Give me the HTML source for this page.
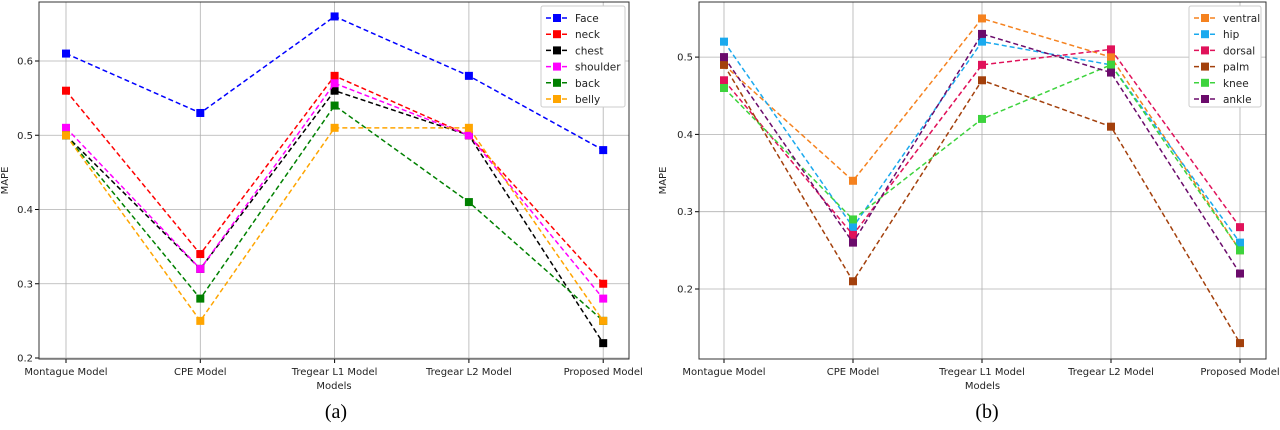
<!DOCTYPE html>
<html><head><meta charset="utf-8"><style>
body{margin:0;background:#fff;width:1280px;height:430px;overflow:hidden}
svg{display:block;font-family:"DejaVu Sans","Liberation Sans",sans-serif}
</style></head><body>
<svg id="s" width="1280" height="430"></svg>
<script>
const categories=["Montague Model","CPE Model","Tregear L1 Model","Tregear L2 Model","Proposed Model"];
const seriesA=["Face","neck","chest","shoulder","back","belly"];
const colorsA=["#0000ff","#ff0000","#000000","#ff00ff","#008000","#ffa500"];
const faceV=[0.61,0.53,0.66,0.58,0.48];
const neckV=[0.56,0.34,0.58,0.50,0.30];
const chestV=[0.50,0.32,0.56,0.50,0.22];
const shoulderV=[0.51,0.32,0.57,0.50,0.28];
const backV=[0.50,0.28,0.54,0.41,0.25];
const bellyV=[0.50,0.25,0.51,0.51,0.25];
const ticksA=[0.2,0.3,0.4,0.5,0.6];
const seriesB=["ventral","hip","dorsal","palm","knee","ankle"];
const colorsB=["#f5821f","#1aa9ee","#e0125a","#a3400c","#3dd33d","#6b0b6b"];
const ventralV=[0.49,0.34,0.55,0.50,0.25];
const hipV=[0.52,0.28,0.52,0.49,0.26];
const dorsalV=[0.47,0.27,0.49,0.51,0.28];
const palmV=[0.49,0.21,0.47,0.41,0.13];
const kneeV=[0.46,0.29,0.42,0.49,0.25];
const ankleV=[0.50,0.26,0.53,0.48,0.22];
const ticksB=[0.2,0.3,0.4,0.5];
const NS="http://www.w3.org/2000/svg";
const svg=document.getElementById('s');
function mk(t,a,p){const e=document.createElementNS(NS,t);for(const k in a)e.setAttribute(k,a[k]);(p||svg).appendChild(e);return e;}
function chart(cfg){
 const g=mk('g',{});
 
 
 const {L,R,T,B,x0,dx,v0,p0,pp}=cfg;
 const xs=i=>x0+i*dx, ys=v=>p0-(v-v0)*pp;
 categories.forEach((c,i)=>{
  const l=mk('line',{x1:xs(i),x2:xs(i),y1:T,y2:B,stroke:'#b0b0b0','stroke-width':0.8},g);
  
  
  mk('line',{x1:xs(i),x2:xs(i),y1:B,y2:B+4,stroke:'#000'},g);
  const t=mk('text',{x:xs(i),y:B+16,'text-anchor':'middle','font-size':10,fill:'#222'},g);
  t.textContent=c;
  
  
 });
 cfg.ticks.forEach(v=>{
  const l=mk('line',{x1:L,x2:R,y1:ys(v),y2:ys(v),stroke:'#b0b0b0','stroke-width':0.8},g);
  
  
  mk('line',{x1:L-4,x2:L,y1:ys(v),y2:ys(v),stroke:'#000'},g);
  const t=mk('text',{x:L-6,y:ys(v)+3.5,'text-anchor':'end','font-size':10,fill:'#222'},g);
  t.textContent=v.toFixed(1);
  
  
 });
 const fr=mk('rect',{x:L,y:T,width:R-L,height:B-T,fill:'none',stroke:'#333','stroke-width':1},g);
 
 
 cfg.data.forEach((d,k)=>{
  const pl=mk('polyline',{points:d.map((v,i)=>xs(i)+','+ys(v)).join(' '),fill:'none',stroke:cfg.colors[k],'stroke-width':1.5,'stroke-dasharray':'5,3'},g);
  
  
  d.forEach((v,i)=>{
   const m=mk('rect',{x:xs(i)-4,y:ys(v)-4,width:8,height:8,fill:cfg.colors[k]},g);
   
   
  });
 });
 const xt=mk('text',{x:(L+R)/2,y:B+30,'text-anchor':'middle','font-size':10,fill:'#222'},g);
 xt.textContent='Models';
 
 
 const yt=mk('text',{x:cfg.yl,y:(T+B)/2,'text-anchor':'middle','font-size':10,fill:'#222',transform:`rotate(-90 ${cfg.yl} ${(T+B)/2})`},g);
 yt.textContent='MAPE';
 
 
 const lg=mk('g',{},g);
 
 
 mk('rect',{x:cfg.lx,y:6,width:cfg.lw,height:101,fill:'#fff',stroke:'#ccc',rx:2},lg);
 cfg.series.forEach((s,k)=>{
  const y=18+k*16.2;
  const e=mk('g',{},lg);
  
  
  mk('line',{x1:cfg.lx+5,x2:cfg.lx+26,y1:y,y2:y,stroke:cfg.colors[k],'stroke-width':1.5,'stroke-dasharray':'5,3'},e);
  mk('rect',{x:cfg.lx+12,y:y-4,width:8,height:8,fill:cfg.colors[k]},e);
  const t=mk('text',{x:cfg.lx+34,y:y+4,'font-size':10.5,fill:'#222'},e);
  t.textContent=s;
 });
 const cap=mk('text',{x:cfg.capx,y:418,'text-anchor':'middle','font-size':20,'font-family':'Liberation Serif, serif',fill:'#000'},g);
 cap.textContent=cfg.cap;
 
 
}
chart({name:'chart-a',L:39,R:629,T:2,B:359,x0:66,dx:134.3,v0:0.2,p0:358,pp:742.5,ticks:ticksA,
 data:[faceV,neckV,chestV,shoulderV,backV,bellyV],series:seriesA,colors:colorsA,lx:541,lw:84,yl:8,cap:'(a)',capx:336});
chart({name:'chart-b',L:699,R:1266,T:2,B:359,x0:724,dx:129,v0:0.2,p0:289,pp:773,ticks:ticksB,
 data:[ventralV,hipV,dorsalV,palmV,kneeV,ankleV],series:seriesB,colors:colorsB,lx:1189,lw:72,yl:666,cap:'(b)',capx:987});
</script>
</body></html>
